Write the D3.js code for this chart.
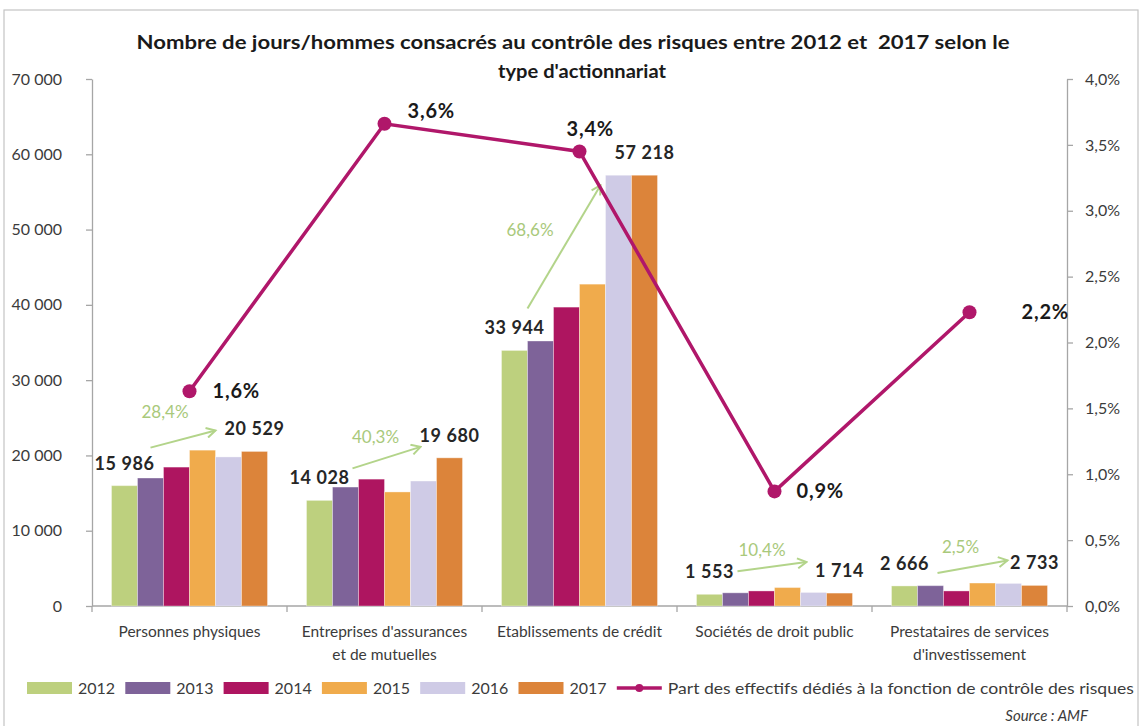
<!DOCTYPE html>
<html><head><meta charset="utf-8">
<script src="https://cdn.jsdelivr.net/npm/d3@7"></script>
<style>body{margin:0;background:#fff;} text{font-family:Lato,"Open Sans",sans-serif;}</style>
</head><body><svg id="c" width="1140" height="726"></svg>
<script>
// ---------- DATA ----------
const categories = ["Personnes physiques","Entreprises d'assurances et de mutuelles","Etablissements de crédit","Sociétés de droit public","Prestataires de services d'investissement"];
const categoryLines = [["Personnes physiques"],["Entreprises d'assurances","et de mutuelles"],["Etablissements de crédit"],["Sociétés de droit public"],["Prestataires de services","d'investissement"]];
const years = ["2012","2013","2014","2015","2016","2017"];
const v2012 = [15986,14028,33944,1553,2666];
const v2013 = [17000,15800,35200,1750,2700];
const v2014 = [18450,16850,39700,2000,2000];
const v2015 = [20700,15150,42750,2450,3050];
const v2016 = [19800,16600,57218,1800,3000];
const v2017 = [20529,19680,57218,1714,2733];
const shareRisk = [0.0163,0.0366,0.0345,0.0087,0.0223];
const shareLabels = ["1,6%","3,6%","3,4%","0,9%","2,2%"];
const growthLabels = ["28,4%","40,3%","68,6%","10,4%","2,5%"];
const leftTicks = [0,10000,20000,30000,40000,50000,60000,70000];
const rightTicks = [0,0.005,0.01,0.015,0.02,0.025,0.03,0.035,0.04];
const lineLegend = "Part des effectifs dédiés à la fonction de contrôle des risques";
const title1 = "Nombre de jours/hommes consacrés au contrôle des risques entre 2012 et  2017 selon le";
const title2 = "type d'actionnariat";
const sourceText = "Source : AMF";

// ---------- STYLE / LAYOUT ----------
const yearColors = ["#bdd07e","#7e6399","#ae1560","#f0ab4c","#cfcbe6","#dc843a"];
const lineColor = "#b0176a";
const greenText = "#a9c97b";
const greenArrow = "#b3d48a";
const series = [v2012,v2013,v2014,v2015,v2016,v2017];
const shareLabelOffsets = [[23,0],[23,-13],[-13,-22],[22,0],[52,0]];
const arrowOffsets = [[13,-38,-26,-21],[20,-32,-16,-11],[0,-42,-31,10],[15,-23,-20,-31],[20,-13,-14,-25]];
const growthOffsets = [[-18,-27],[-11,-21],[-34,-17],[-10,-17],[-12,-20]];

(function(){
const svg = d3.select("#c");
const pLeft = 92, pRight = 1067, pTop = 79, pBottom = 606;

svg.append("rect").attr("x",4).attr("y",10).attr("width",1134).attr("height",740)
  .attr("fill","#fff").attr("stroke","#c4c4c4").attr("stroke-width",1.2);

const x0 = d3.scaleBand().domain(categories).range([pLeft,pRight]).paddingInner(0.2).paddingOuter(0.1);
const x1 = d3.scaleBand().domain(years).range([0,x0.bandwidth()]);
const yL = d3.scaleLinear().domain([0,70000]).range([pBottom,pTop]);
const yR = d3.scaleLinear().domain([0,0.04]).range([pBottom,pTop]);
const fmtN = v => d3.format(",.0f")(v).replace(/,/g," ");
const fmtP = v => d3.format(".1%")(v).replace(".",",");
const axisColor = "#a6a6a6", tickText = "#3b3b3b";

svg.append("text").attr("x",573).attr("y",49).attr("text-anchor","middle").attr("style","white-space:pre")
  .attr("font-weight",700).attr("font-size",18).attr("fill","#1a1a1a")
  .attr("textLength",873).attr("lengthAdjust","spacingAndGlyphs").text(title1);
svg.append("text").attr("x",582).attr("y",78).attr("text-anchor","middle")
  .attr("font-weight",700).attr("font-size",18).attr("fill","#1a1a1a")
  .attr("textLength",168).attr("lengthAdjust","spacingAndGlyphs").text(title2);

const gL = svg.append("g").attr("transform",`translate(${pLeft},0)`)
  .call(d3.axisLeft(yL).tickValues(leftTicks).tickFormat(fmtN).tickSize(6).tickSizeOuter(0).tickPadding(24));
const gR = svg.append("g").attr("transform",`translate(${pRight},0)`)
  .call(d3.axisRight(yR).tickValues(rightTicks).tickFormat(fmtP).tickSize(6).tickSizeOuter(0).tickPadding(12));
[gL,gR].forEach(g=>{
  g.select(".domain").attr("stroke",axisColor).attr("stroke-width",1.3);
  g.selectAll(".tick line").attr("stroke",axisColor).attr("stroke-width",1.3);
  g.selectAll(".tick text").attr("fill",tickText).attr("font-size",16).attr("font-family","Lato");
});
const step = x0.step();
const bounds = categories.map(c => x0(c) - step*x0.paddingInner()/2).concat([pRight]);
svg.append("line").attr("x1",pLeft).attr("x2",pRight).attr("y1",pBottom).attr("y2",pBottom)
  .attr("stroke",axisColor).attr("stroke-width",1.3);
svg.append("g").selectAll("line").data(bounds).join("line").attr("x1",d=>d).attr("x2",d=>d)
  .attr("y1",pBottom).attr("y2",pBottom+6).attr("stroke",axisColor).attr("stroke-width",1.3);
categoryLines.forEach((lines,i)=>{
  const cx = x0(categories[i]) + x0.bandwidth()/2;
  lines.forEach((ln,j)=>{
    svg.append("text").attr("x",cx).attr("y",637+j*23).attr("text-anchor","middle")
      .attr("font-size",15.5).attr("fill",tickText).text(ln);
  });
});

series.forEach((vals,si)=>{
  svg.append("g").selectAll("rect").data(vals).join("rect")
    .attr("x",(d,i)=>x0(categories[i])+x1(years[si]))
    .attr("width",x1.bandwidth())
    .attr("y",d=>yL(d)).attr("height",d=>pBottom-yL(d))
    .attr("fill",yearColors[si]).attr("stroke","#fff").attr("stroke-opacity",0.35).attr("stroke-width",1);
});

[[v2012,0],[v2017,5]].forEach(([vals,si])=>{
  svg.append("g").selectAll("text").data(vals).join("text")
    .attr("x",(d,i)=>x0(categories[i])+x1(years[si])+x1.bandwidth()/2)
    .attr("y",d=>yL(d)-16).attr("text-anchor","middle").attr("letter-spacing",0.6)
    .attr("font-size",18).attr("font-weight",700).attr("fill","#262626").text(d=>fmtN(d));
});

const defs = svg.append("defs");
defs.append("marker").attr("id","ah").attr("viewBox","0 0 12 12").attr("refX",10).attr("refY",6)
  .attr("markerWidth",12).attr("markerHeight",12).attr("markerUnits","userSpaceOnUse").attr("orient","auto")
  .append("path").attr("d","M1,1 L10,6 L1,11").attr("fill","none").attr("stroke",greenArrow).attr("stroke-width",2);
categories.forEach((c,i)=>{
  const o = arrowOffsets[i];
  const xs = x0(c)+x1(years[0])+x1.bandwidth()+o[0], ys = yL(v2012[i])+o[1];
  const xe = x0(c)+x1(years[5])+o[2], ye = yL(v2017[i])+o[3];
  svg.append("line").attr("x1",xs).attr("y1",ys).attr("x2",xe).attr("y2",ye)
    .attr("stroke",greenArrow).attr("stroke-width",2).attr("marker-end","url(#ah)");
  const mx = (xs+xe)/2 + growthOffsets[i][0], my = (ys+ye)/2 + growthOffsets[i][1];
  svg.append("text").attr("x",mx).attr("y",my).attr("dy","0.35em").attr("text-anchor","middle")
    .attr("font-size",17).attr("fill",greenText).text(growthLabels[i]);
});

const cxOf = i => x0(categories[i])+x0.bandwidth()/2;
svg.append("path").datum(shareRisk).attr("fill","none").attr("stroke",lineColor).attr("stroke-width",3.5)
  .attr("d", d3.line().x((d,i)=>cxOf(i)).y(d=>yR(d)));
svg.append("g").selectAll("circle").data(shareRisk).join("circle")
  .attr("cx",(d,i)=>cxOf(i)).attr("cy",d=>yR(d)).attr("r",7).attr("fill",lineColor);
svg.append("g").selectAll("text").data(shareRisk).join("text")
  .attr("x",(d,i)=>cxOf(i)+shareLabelOffsets[i][0])
  .attr("y",(d,i)=>yR(d)+shareLabelOffsets[i][1]).attr("dy","0.35em").attr("letter-spacing",0.8)
  .attr("font-size",20).attr("font-weight",700).attr("fill","#1a1a1a").text((d,i)=>shareLabels[i]);

const ly = 688, lStep = 98.3;
years.forEach((y,i)=>{
  const lx = 27 + i*lStep;
  svg.append("rect").attr("x",lx).attr("y",ly-6).attr("width",45).attr("height",12).attr("fill",yearColors[i]);
  svg.append("text").attr("x",lx+51).attr("y",ly).attr("dy","0.35em").attr("font-size",16)
    .attr("fill",tickText).text(y);
});
const llx = 27 + 6*lStep;
svg.append("line").attr("x1",llx).attr("x2",llx+45).attr("y1",ly).attr("y2",ly).attr("stroke",lineColor).attr("stroke-width",3.5);
svg.append("circle").attr("cx",llx+22.5).attr("cy",ly).attr("r",4).attr("fill",lineColor);
svg.append("text").attr("x",llx+51).attr("y",ly).attr("dy","0.35em").attr("font-size",16)
  .attr("textLength",466).attr("lengthAdjust","spacingAndGlyphs")
  .attr("fill",tickText).text(lineLegend);

svg.append("text").attr("x",1088).attr("y",721).attr("text-anchor","end").attr("font-size",15)
  .attr("font-style","italic").attr("fill","#3b3b3b").text(sourceText);
})();
</script></body></html>
